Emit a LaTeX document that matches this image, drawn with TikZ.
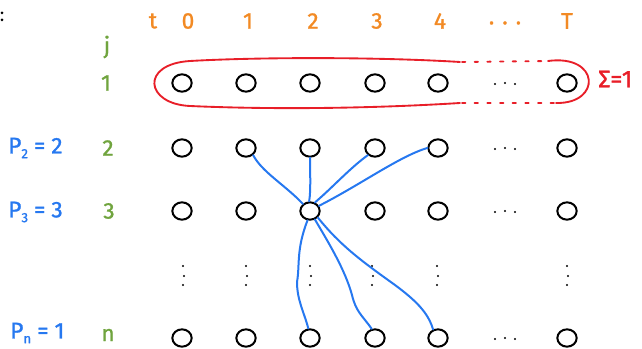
\documentclass[tikz,border=0pt]{standalone}
\usepackage{fontspec}
\setmainfont{Fira Sans}
\newfontfamily\penfont{Fira Sans}[FakeBold=1.2]
\usetikzlibrary{shapes.geometric}
\definecolor{hdrorange}{RGB}{242,138,36}
\definecolor{rowgreen}{RGB}{112,164,62}
\definecolor{penblue}{RGB}{38,120,240}
\definecolor{penred}{RGB}{232,30,40}
\newcommand\lowsub[1]{\raisebox{-0.4ex}{\normalsize #1}}
\begin{document}
\begin{tikzpicture}[x=0.75pt,y=-0.75pt,
  vtx/.style={ellipse,draw=black,line width=1.5pt,minimum width=14.5pt,minimum height=13pt,inner sep=0pt},
  lbl/.style={font=\penfont\fontsize{17}{19}\selectfont,inner sep=0pt},
  hdr/.style={lbl,text=hdrorange},
  rowlbl/.style={lbl,text=rowgreen},
  plbl/.style={lbl,text=penblue,anchor=west},
  link/.style={draw=penblue,line width=1.5pt,line cap=round},
  ring/.style={draw=penred,line width=1.4pt,line cap=round}]
\path[use as bounding box] (0,0) rectangle (642,349);

% stray marks at the top-left edge
\fill (2,13) circle (1.5);
\fill (2,20) circle (1.5);

% column header t
\node[hdr] (ht) at (153,21) {t};
\node[hdr] (h0) at (188,21) {0};
\node[hdr] (h1) at (248,21) {1};
\node[hdr] (h2) at (313,21) {2};
\node[hdr] (h3) at (377,21) {3};
\node[hdr] (h4) at (440,21) {4};
\node[hdr] (hd) at (505,23) {. . .};
\node[hdr] (hT) at (567,21) {T};

% row header j
\node[rowlbl] (rj) at (107,47) {j};
\node[rowlbl] (r1) at (106,83) {1};
\node[rowlbl] (r2) at (108,148) {2};
\node[rowlbl] (r3) at (109,211) {3};
\node[rowlbl] (rn) at (108,335) {n};

% priorities
\node[plbl] (p2) at (8,148) {P\lowsub{2} = 2};
\node[plbl] (p3) at (8,212) {P\lowsub{3} = 3};
\node[plbl] (pn) at (10,333) {P\lowsub{n} = 1};

% grid of vertices
\foreach \r/\y in {1/83,2/148,3/211,n/338}{
  \foreach \c/\x in {0/182,1/246,2/310,3/375,4/438,T/567}{
    \node[vtx] (v-\c-\r) at (\x,\y) {};
  }
  \fill (495,\y+1) circle (1.2) (505,\y) circle (1.2) (515,\y+1) circle (1.2);
}

% vertical ellipsis row
\foreach \x in {183,246,310,372,437,567}{
  \fill (\x,266) circle (1.2) (\x+1,276) circle (1.2) (\x,285) circle (1.2);
}

% red boundary around row 1
\draw[ring] (460,62) .. controls (380,57) and (260,57) .. (190,61)
  .. controls (140,64) and (145,104) .. (190,106)
  .. controls (280,110) and (380,108) .. (460,103);
\draw[ring,dash pattern=on 2.5pt off 7pt] (462,62) -- (548,61);
\draw[ring,dash pattern=on 2.5pt off 7pt] (462,103) -- (556,103);
\draw[ring] (548,61) .. controls (600,54) and (602,104) .. (556,103);
\node[text=penred,font=\penfont\fontsize{18}{20}\selectfont,anchor=west,inner sep=0pt] (sum) at (598,79) {Σ=1};

% conflict links around vertex (2,3)
\draw[link] (v-1-2.-45) .. controls (262,172) and (285,185) .. (v-2-3.135);
\draw[link] (v-2-2.-90) .. controls (310,172) and (311,190) .. (v-2-3.95);
\draw[link] (v-3-2.-135) .. controls (350,168) and (332,188) .. (v-2-3.60);
\draw[link] (v-4-2.180) .. controls (400,156) and (360,185) .. (v-2-3.30);
\draw[link] (v-2-3.-105) .. controls (296,250) and (300,265) .. (297,282)
  .. controls (297,300) and (304,312) .. (v-2-n.100);
\draw[link] (v-2-3.-60) .. controls (330,245) and (345,270) .. (352,295)
  .. controls (356,312) and (362,315) .. (v-3-n.110);
\draw[link] (v-2-3.-40) .. controls (340,245) and (360,260) .. (395,285)
  .. controls (415,300) and (428,312) .. (v-4-n.120);
\end{tikzpicture}
\end{document}
